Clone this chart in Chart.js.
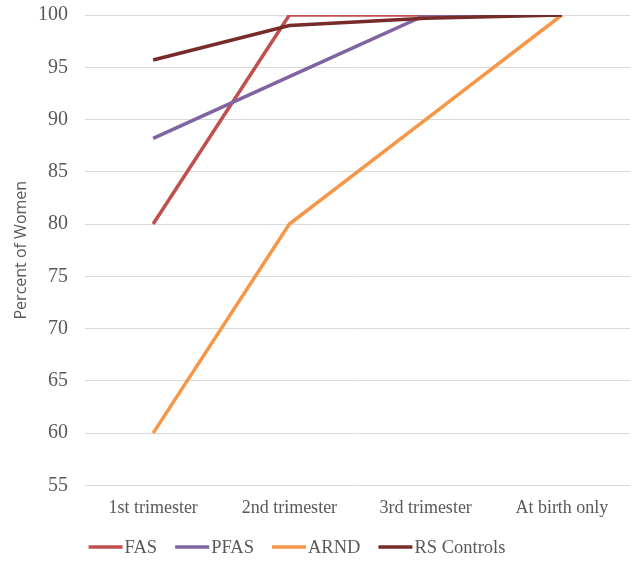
<!DOCTYPE html>
<html>
<head>
<meta charset="utf-8">
<script src="https://cdn.jsdelivr.net/npm/chart.js@4"></script>
<style>
  html, body { margin: 0; padding: 0; background: #ffffff; }
  #wrap { width: 636px; height: 563px; position: relative; }
</style>
</head>
<body>
<div id="wrap"><canvas id="chart"></canvas></div>
<script>
// Stages at which women stopped drinking
const categories = ['1st trimester', '2nd trimester', '3rd trimester', 'At birth only'];

// Cumulative percent of women per diagnostic group
const fas = [80, 100, 100, 100];
const pfas = [88.2, 94.1, 100, 100];
const arnd = [60, 80, 90, 100];
const rsControls = [95.7, 99.0, 99.7, 100];

const yTicks = [55, 60, 65, 70, 75, 80, 85, 90, 95, 100];

const serif = '"Liberation Serif", "Times New Roman", serif';
const sans = '"Open Sans", "Liberation Sans", Arial, sans-serif';
const textGray = '#595959';

function series(label, data, color, order) {
  return {
    label, data,
    borderColor: color,
    backgroundColor: color,
    borderWidth: 3.5,
    pointRadius: 0,
    pointHoverRadius: 0,
    tension: 0,
    fill: false,
    order
  };
}

// Compact legend: a line swatch butted right up against each series name
const inlineLegend = {
  id: 'inlineLegend',
  afterDraw(chart) {
    const ctx = chart.ctx;
    const swatch = 34, gapText = 2, gapItem = 18;
    const font = '18.5px ' + serif;
    ctx.save();
    ctx.font = font;
    const items = chart.data.datasets.map(ds => ({
      label: ds.label, color: ds.borderColor, w: ctx.measureText(ds.label).width
    }));
    const total = items.reduce((s, it) => s + swatch + gapText + it.w, 0) + gapItem * (items.length - 1);
    let x = 297 - total / 2;
    const y = chart.height - 16;
    ctx.textBaseline = 'middle';
    ctx.textAlign = 'left';
    for (const it of items) {
      ctx.strokeStyle = it.color;
      ctx.lineWidth = 3.5;
      ctx.beginPath();
      ctx.moveTo(x, y);
      ctx.lineTo(x + swatch, y);
      ctx.stroke();
      ctx.fillStyle = textGray;
      ctx.fillText(it.label, x + swatch + gapText, y + 1);
      x += swatch + gapText + it.w + gapItem;
    }
    ctx.restore();
  }
};

new Chart(document.getElementById('chart'), {
  type: 'line',
  data: {
    labels: categories,
    datasets: [
      series('FAS', fas, '#c0504d', 3),
      series('PFAS', pfas, '#8064a2', 2),
      series('ARND', arnd, '#f79646', 1),
      series('RS Controls', rsControls, '#772c2a', 0)
    ]
  },
  plugins: [inlineLegend],
  options: {
    responsive: true,
    maintainAspectRatio: false,
    animation: false,
    layout: { autoPadding: false, padding: { left: 12, right: 6, top: 1, bottom: 32 } },
    scales: {
      x: {
        offset: true,
        grid: { display: false, drawTicks: false },
        border: { display: false },
        ticks: {
          color: textGray,
          font: { family: serif, size: 18 },
          padding: 12
        }
      },
      y: {
        min: 55,
        max: 100,
        afterBuildTicks: (axis) => { axis.ticks = yTicks.map(v => ({ value: v })); },
        grid: {
          color: '#d9d9d9',
          lineWidth: 1,
          drawTicks: true,
          tickLength: 14,
          tickColor: 'rgba(0,0,0,0)'
        },
        border: { display: false },
        ticks: {
          color: textGray,
          font: { family: serif, size: 20 },
          padding: 3
        },
        title: {
          display: true,
          text: 'Percent of Women',
          color: textGray,
          font: { family: sans, size: 16 },
          padding: { top: 0, bottom: 3.8 }
        }
      }
    },
    plugins: {
      legend: { display: false },
      tooltip: { enabled: false }
    }
  }
});
</script>
</body>
</html>
